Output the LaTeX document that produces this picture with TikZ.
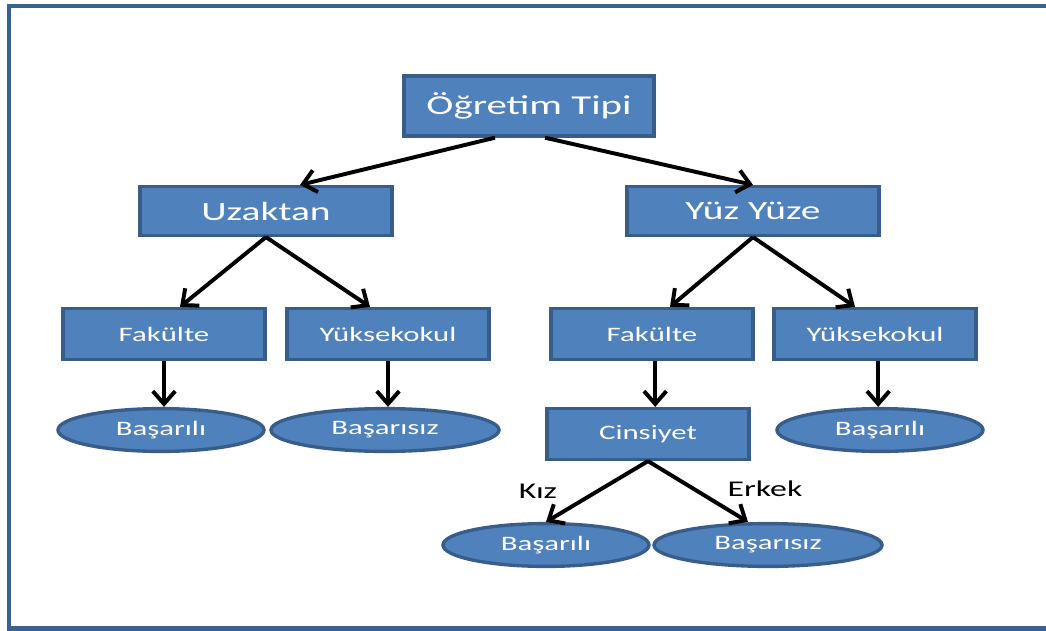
\documentclass[tikz,border=0pt]{standalone}
\usepackage{fontspec}
\setmainfont[FakeStretch=1.5]{Carlito}
\usepackage{tikz}
\usetikzlibrary{arrows.meta,shapes.geometric}
\definecolor{boxblue}{HTML}{4F81BD}
\definecolor{boxedge}{HTML}{385D8A}
\definecolor{framec}{HTML}{3B6191}

\begin{document}
\begin{tikzpicture}[x=0.025cm,y=-0.025cm,root/.style={draw=boxedge,fill=boxblue,line width=2.4pt,text=white,minimum width=6.25cm,minimum height=1.5cm,inner sep=0pt,font=\fontsize{19.4}{22}\selectfont},branch/.style={root,minimum width=6.3cm,minimum height=1.22cm,font=\fontsize{18.7}{22}\selectfont},unit/.style={root,minimum width=5.05cm,minimum height=1.27cm,font=\fontsize{14.6}{17}\selectfont},leaf/.style={ellipse,draw=boxedge,fill=boxblue,line width=2.4pt,text=white,minimum width=5.15cm,minimum height=1.07cm,inner sep=0pt,font=\fontsize{14.6}{17}\selectfont},wideleaf/.style={leaf,minimum width=5.7cm},dep/.style={-{Straight Barb[length=3.2mm,width=5.6mm]},line width=2.8pt},lbl/.style={font=\fontsize{16}{19}\selectfont}]
\useasboundingbox (0,0) rectangle (1046,631);
\draw[framec,line width=0.11cm] (1050,6) -- (9,6) -- (9,628.5) -- (1050,628.5);
\node[root] (tip) at (529,106) {Öğretim Tipi};
\node[branch] (uzak) at (266,211) {Uzaktan};
\node[branch] (yuz) at (753,211) {Yüz Yüze};
\node[unit] (fakL) at (164,334) {Fakülte};
\node[unit] (yoL) at (388,334) {Yüksekokul};
\node[unit] (fakR) at (652,334) {Fakülte};
\node[unit] (yoR) at (875,334) {Yüksekokul};
\node[leaf] (basL) at (161,430) {Başarılı};
\node[wideleaf] (bszL) at (385,430) {Başarısız};
\node[unit] (cins) at (648,434) {Cinsiyet};
\node[leaf] (basR) at (880,430) {Başarılı};
\node[leaf] (basK) at (546,545) {Başarılı};
\node[wideleaf] (bszE) at (768,545) {Başarısız};
\draw[dep] ([xshift=-0.85cm]tip.south) -- ([xshift=0.85cm]uzak.north);
\draw[dep] ([xshift=0.4cm]tip.south) -- (yuz.north);
\draw[dep] (uzak.south) -- ([xshift=0.4cm]fakL.north);
\draw[dep] (uzak.south) -- ([xshift=-0.45cm]yoL.north);
\draw[dep] (yuz.south) -- ([xshift=0.45cm]fakR.north);
\draw[dep] (yuz.south) -- ([xshift=-0.5cm]yoR.north);
\draw[dep] (fakL.south) -- (fakL.south |- basL.north);
\draw[dep] (yoL.south) -- (yoL.south |- bszL.north);
\draw[dep] ([xshift=0.08cm]fakR.south) -- ([xshift=0.08cm]fakR.south |- cins.north);
\draw[dep] ([xshift=0.08cm]yoR.south) -- ([xshift=0.08cm]yoR.south |- basR.north);
\draw[dep] (cins.south) -- (basK.north);
\draw[dep] (cins.south) -- ([xshift=-0.5cm]bszE.north);
\node[lbl] (kiz) at (538,491) {Kız};
\node[lbl] (erkek) at (765,489) {Erkek};
\end{tikzpicture}
\end{document}
